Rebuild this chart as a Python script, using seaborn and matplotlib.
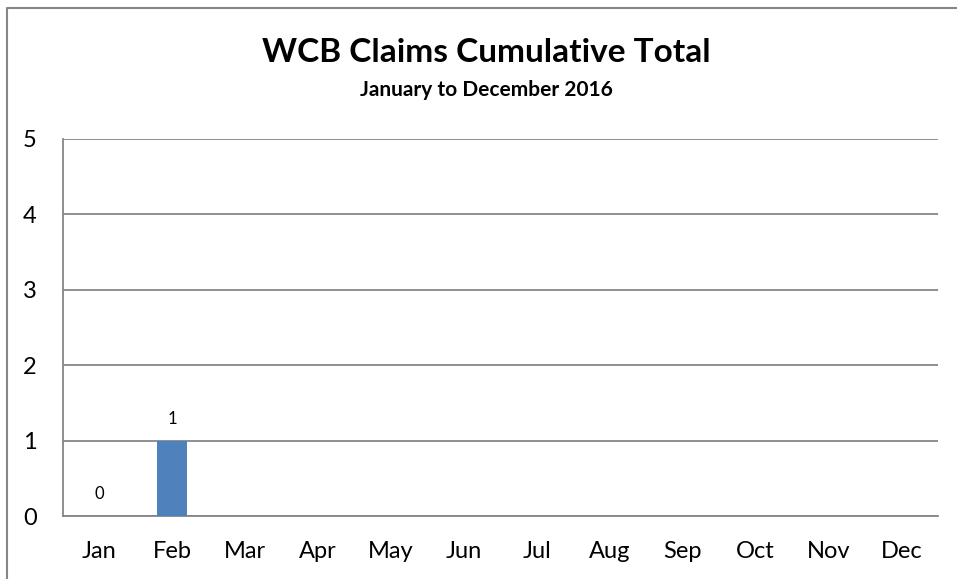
import numpy as np
import pandas as pd
import matplotlib
matplotlib.use("Agg")
import matplotlib.pyplot as plt
import seaborn as sns
from matplotlib.lines import Line2D

months = ["Jan", "Feb", "Mar", "Apr", "May", "Jun",
          "Jul", "Aug", "Sep", "Oct", "Nov", "Dec"]
claims = [0, 1, np.nan, np.nan, np.nan, np.nan,
          np.nan, np.nan, np.nan, np.nan, np.nan, np.nan]
y_ticks = [0, 1, 2, 3, 4, 5]

title = "WCB Claims Cumulative Total"
subtitle = "January to December 2016"

sns.set_theme(style="white")
plt.rcParams["font.family"] = ["Lato", "DejaVu Sans"]
plt.rcParams["text.color"] = "black"

df = pd.DataFrame({"month": months, "claims": claims})

fig = plt.figure(figsize=(9.57, 5.79), dpi=100)
ax = fig.add_axes([0.0658, 0.1088, 0.9142, 0.6512])

sns.barplot(data=df, x="month", y="claims", color="#4F81BD",
            saturation=1, width=0.41, linewidth=0, ax=ax, zorder=3)

ax.set_ylim(0, 5)
ax.set_yticks(y_ticks)
ax.set_xlim(-0.5, len(months) - 0.5)
ax.yaxis.grid(True, color="#868686", linewidth=1.3, zorder=0)
ax.set_axisbelow(True)
ax.set_xlabel("")
ax.set_ylabel("")
for side in ["top", "right"]:
    ax.spines[side].set_visible(False)
for side in ["left", "bottom"]:
    ax.spines[side].set_color("#868686")
    ax.spines[side].set_linewidth(1.3)
ax.tick_params(axis="both", length=0, labelsize=17, colors="black")
ax.tick_params(axis="x", pad=18)
ax.tick_params(axis="y", pad=19)

for i, v in enumerate(claims):
    if not np.isnan(v):
        ax.annotate(f"{int(v)}", (i, v), xytext=(0, 10), textcoords="offset points",
                    ha="center", va="bottom", fontsize=12, color="black")

fig.text(0.508, 0.91, title, ha="center", va="center", fontsize=24,
         fontweight="bold", color="black")
fig.text(0.508, 0.845, subtitle, ha="center", va="center", fontsize=15,
         fontweight="bold", color="black")

# chart frame (left and top edges)
fig.add_artist(Line2D([7.5 / 957, 7.5 / 957, 1.0], [0.0, 1 - 7.5 / 579, 1 - 7.5 / 579],
                      transform=fig.transFigure, color="#868686", linewidth=1.5))

fig.savefig("out.png", dpi=100)
